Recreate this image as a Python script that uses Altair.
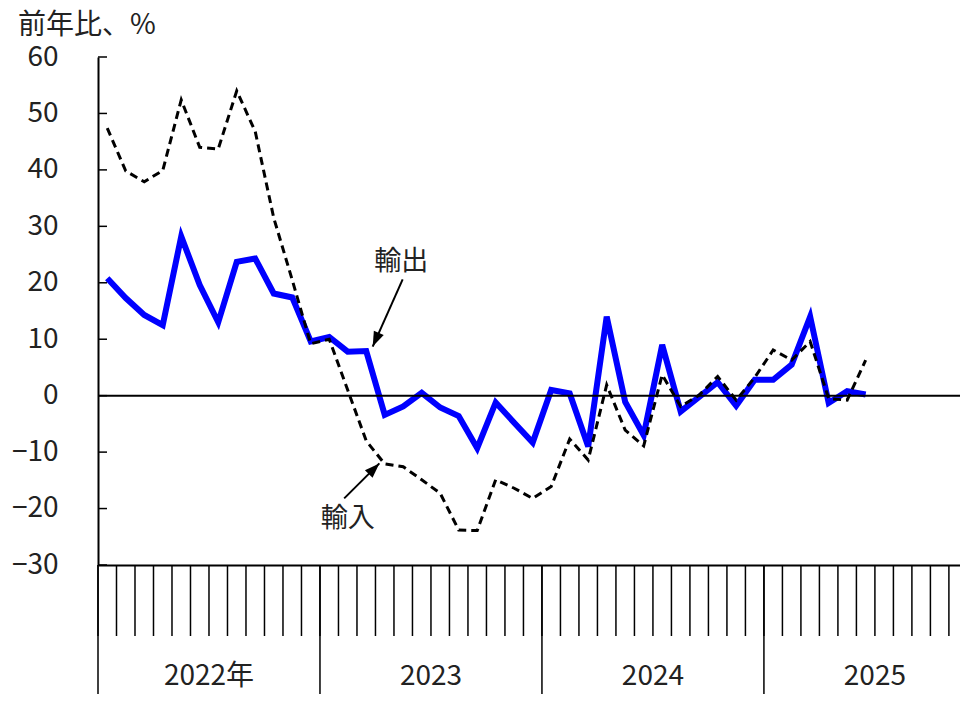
import altair as alt
import pandas as pd

# Monthly, year-on-year %, from 2022-01
exports = [20.8, 17.3, 14.3, 12.5, 28.2, 19.6, 13.0, 23.7, 24.3, 18.1, 17.4, 9.6,
           10.4, 7.8, 7.9, -3.4, -1.9, 0.5, -2.1, -3.6, -9.3, -1.2, -4.8, -8.3,
           1.0, 0.4, -9.0, 14.0, -1.1, -7.0, 9.0, -2.8, -0.2, 2.4, -1.8, 2.8,
           2.8, 5.5, 14.0, -1.3, 0.8, 0.2]
imports = [47.4, 39.8, 37.9, 39.9, 52.4, 44.0, 43.7, 54.0, 46.8, 31.5, 20.5, 9.2,
           10.0, 1.0, -8.0, -12.1, -12.6, -14.9, -17.3, -23.8, -23.9, -14.9, -16.4, -18.2,
           -16.1, -7.7, -11.4, 1.9, -6.1, -8.9, 3.7, -1.9, 0.1, 3.4, -0.8, 3.2,
           8.1, 6.3, 9.6, -0.5, -0.8, 6.3]
year_labels = ["2022年", "2023", "2024", "2025"]
year_starts = [0, 12, 24, 36]
month_ticks = list(range(47))
y_ticks = [-30, -20, -10, 0, 10, 20, 30, 40, 50, 60]

FONT = "Noto Sans CJK JP"
TXT = "#222222"
W, H = 862, 508

df = pd.DataFrame({"t": [i + 0.5 for i in range(len(exports))],
                   "exp": exports, "imp": imports})
xs = alt.Scale(domain=[0, 46.6], nice=False, zero=False)
ys = alt.Scale(domain=[-30, 60], nice=False, zero=False)

x_axis = alt.Axis(ticks=False, tickSize=0, labels=False, domainColor="black", domainWidth=2,
                  grid=False, title=None)
y_axis = alt.Axis(values=y_ticks, ticks=False, tickSize=0, labelFontSize=28, labelFont=FONT,
                  labelColor=TXT, labelPadding=40, domainColor="black", domainWidth=2,
                  grid=False, title=None)

base = alt.Chart(df)
exp_line = base.mark_line(color="#0000FF", strokeWidth=6, strokeJoin="miter").encode(
    x=alt.X("t:Q", scale=xs, axis=x_axis),
    y=alt.Y("exp:Q", scale=ys, axis=y_axis),
)
imp_line = base.mark_line(color="black", strokeWidth=3, strokeDash=[8, 5]).encode(
    x=alt.X("t:Q", scale=xs),
    y=alt.Y("imp:Q", scale=ys),
)

zero = alt.Chart(pd.DataFrame({"y": [0]})).mark_rule(color="black", strokeWidth=2).encode(
    y=alt.Y("y:Q", scale=ys), x=alt.value(0), x2=alt.value(W))

yticks = alt.Chart(pd.DataFrame({"y": y_ticks})).mark_rule(color="black", strokeWidth=1.5).encode(
    y=alt.Y("y:Q", scale=ys), x=alt.value(0), x2=alt.value(9))

mticks = alt.Chart(pd.DataFrame({"m": month_ticks})).mark_rule(color="black", strokeWidth=1.5).encode(
    x=alt.X("m:Q", scale=xs), y=alt.value(H), y2=alt.value(H + 71))

yr_df = pd.DataFrame({"x": year_starts, "xm": [s + 6 for s in year_starts], "lab": year_labels})
yr_rules = alt.Chart(yr_df).mark_rule(color="black", strokeWidth=1.5).encode(
    x=alt.X("x:Q", scale=xs), y=alt.value(H), y2=alt.value(H + 140))
yr_text = alt.Chart(yr_df).mark_text(font=FONT, fontSize=28, color=TXT, baseline="middle",
                                     align="center").encode(
    x=alt.X("xm:Q", scale=xs), y=alt.value(620), text="lab:N")

title = alt.Chart(pd.DataFrame({"s": ["前年比、%"]})).mark_text(
    font=FONT, fontSize=28, color=TXT, align="left", baseline="middle").encode(
    x=alt.value(-80), y=alt.value(-31), text="s:N")

ann_df = pd.DataFrame({
    "lab": ["輸出", "輸入"],
    "tx": [16.4, 13.5], "ty": [23.7, -21.8],
    "x0": [16.47, 13.31], "y0": [20.6, -18.2],
    "x1": [14.85, 15.21], "y1": [8.7, -12.0],
    "ang": [204, 45],
})
ann_text = alt.Chart(ann_df).mark_text(font=FONT, fontSize=27, color=TXT,
                                       baseline="middle", align="center").encode(
    x=alt.X("tx:Q", scale=xs), y=alt.Y("ty:Q", scale=ys), text="lab:N")
ann_line = alt.Chart(ann_df).mark_rule(color="black", strokeWidth=2).encode(
    x=alt.X("x0:Q", scale=xs), y=alt.Y("y0:Q", scale=ys),
    x2="x1:Q", y2="y1:Q")
ann_head = alt.Chart(ann_df).mark_point(
    shape="M0,0L-0.36,1L0.36,1Z", filled=True, color="black", opacity=1, size=900,
    strokeWidth=0).encode(
    x=alt.X("x1:Q", scale=xs), y=alt.Y("y1:Q", scale=ys),
    angle=alt.Angle("ang:Q", scale=None))

chart = alt.layer(
    exp_line, imp_line, zero, yticks, mticks, yr_rules, yr_text, title,
    ann_line, ann_head, ann_text,
).properties(
    width=W, height=H,
    padding={"left": 90, "top": 49, "right": 0, "bottom": 129},
    autosize=alt.AutoSizeParams(type="none"),
).configure(font=FONT, background="white").configure_view(stroke=None)

chart.save("out.html", embed_options={"renderer": "svg", "actions": False})
